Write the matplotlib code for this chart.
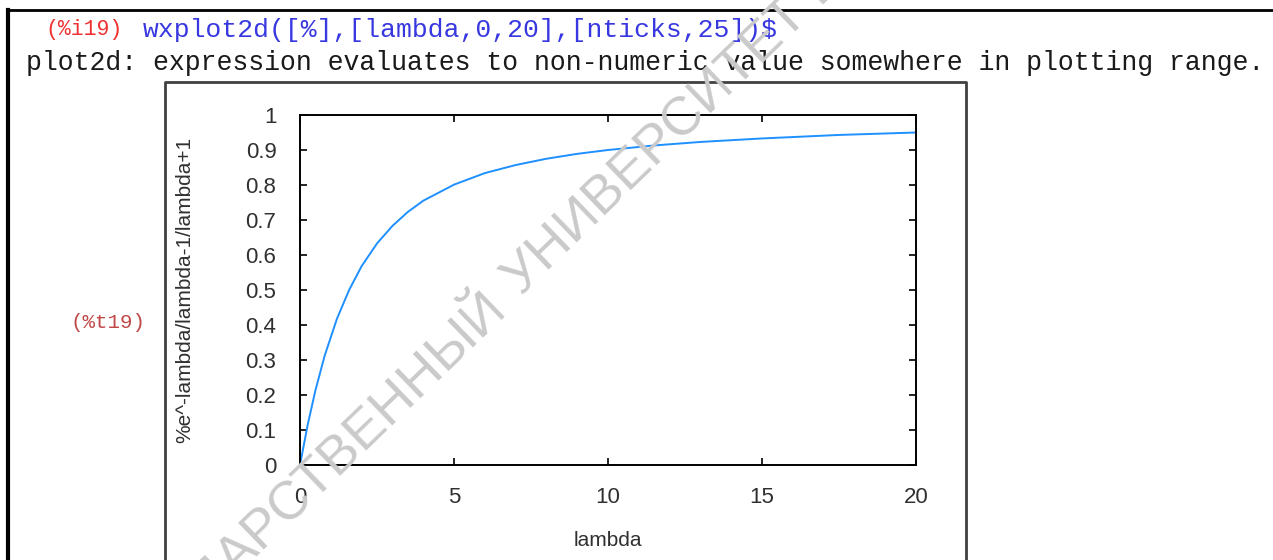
import numpy as np
import matplotlib.pyplot as plt

# sampled values of the plotted expression
lam = [0, 0.25, 0.5, 0.8, 1.2, 1.6, 2.0, 2.5, 3.0, 3.5, 4.0, 5.0, 6.0, 7.0,
       8.0, 9.0, 10.0, 11.5, 13.0, 15.0, 17.5, 20.0]
val = [0.0, 0.115, 0.213, 0.312, 0.418, 0.501, 0.568, 0.633, 0.683, 0.723,
       0.755, 0.801, 0.834, 0.857, 0.875, 0.889, 0.900, 0.913, 0.923, 0.933,
       0.943, 0.950]

x_ticks = [0, 5, 10, 15, 20]
y_ticks = [0, 0.1, 0.2, 0.3, 0.4, 0.5, 0.6, 0.7, 0.8, 0.9, 1]
y_tick_labels = ['0', '0.1', '0.2', '0.3', '0.4', '0.5', '0.6', '0.7', '0.8', '0.9', '1']

input_label = '(%i19)'
input_cmd = 'wxplot2d([%],[lambda,0,20],[nticks,25])$'
warning = 'plot2d: expression evaluates to non-numeric value somewhere in plotting range.'
output_label = '(%t19)'
y_title = '%e^-lambda/lambda-1/lambda+1'
x_title = 'lambda'
stamp_left = 'ГОСУДАРСТВЕННЫЙ'
stamp_right = 'УНИВЕРСИТЕТ ИМЕНИ'

W, H = 1273, 560
fig = plt.figure(figsize=(W / 100, H / 100), dpi=100)

# pixel-space overlay for the worksheet around the plot
bg = fig.add_axes([0, 0, 1, 1])
bg.set_xlim(0, W)
bg.set_ylim(H, 0)
bg.axis('off')

mono = 'Liberation Mono'
bg.plot([8, W], [10, 10], color='black', lw=2)
bg.plot([8, 8], [10, H], color='black', lw=3)
bg.text(45, 30, input_label, family=mono, fontsize=15.5, color='#ee3030', va='center')
bg.text(143, 30, input_cmd, family=mono, fontsize=19, color='#3838e0', va='center')
bg.text(26, 63, warning, family=mono, fontsize=19.1, color='#1a1a1a', va='center')
bg.text(70, 322, output_label, family=mono, fontsize=15, color='#c04848', va='center')

# frame of the embedded plot image
bg.plot([165, 165, 966, 966], [H, 82, 82, H], color='#404040', lw=2)

ax = fig.add_axes([300 / W, (H - 465) / H, 616 / W, 350 / H])
ax.plot(lam, val, color='#1e90ff', lw=1.4)
ax.set_xlim(0, 20)
ax.set_ylim(0, 1)
ax.set_xticks(x_ticks)
ax.set_yticks(y_ticks)
ax.set_xticklabels([str(t) for t in x_ticks])
ax.set_yticklabels(y_tick_labels)
ax.tick_params(direction='in', length=5, width=1.2, top=True, right=True,
               labelsize=16, labelcolor='#303030', color='black')
ax.tick_params(axis='y', pad=17)
ax.tick_params(axis='x', pad=16)
for lbl in ax.get_xticklabels() + ax.get_yticklabels():
    lbl.set_family('Liberation Sans')
for s in ax.spines.values():
    s.set_linewidth(1.4)
ax.set_xlabel(x_title, family='Liberation Sans', fontsize=15, color='#303030')
ax.set_ylabel(y_title, family='Liberation Sans', fontsize=15, color='#303030')
ax.xaxis.set_label_coords(0.5, -0.19)
ax.yaxis.set_label_coords(-0.172, 0.5)

# diagonal stamp across the page, on top of everything
stamp_kw = dict(family='Liberation Sans', fontsize=39, color='#cacaca', rotation=44,
                rotation_mode='anchor', va='baseline', zorder=10, transform=bg.transData)
fig.text(508, 310, stamp_left, ha='right', **stamp_kw)
fig.text(522, 297, stamp_right, ha='left', **stamp_kw)

fig.savefig('out.png', dpi=100)
